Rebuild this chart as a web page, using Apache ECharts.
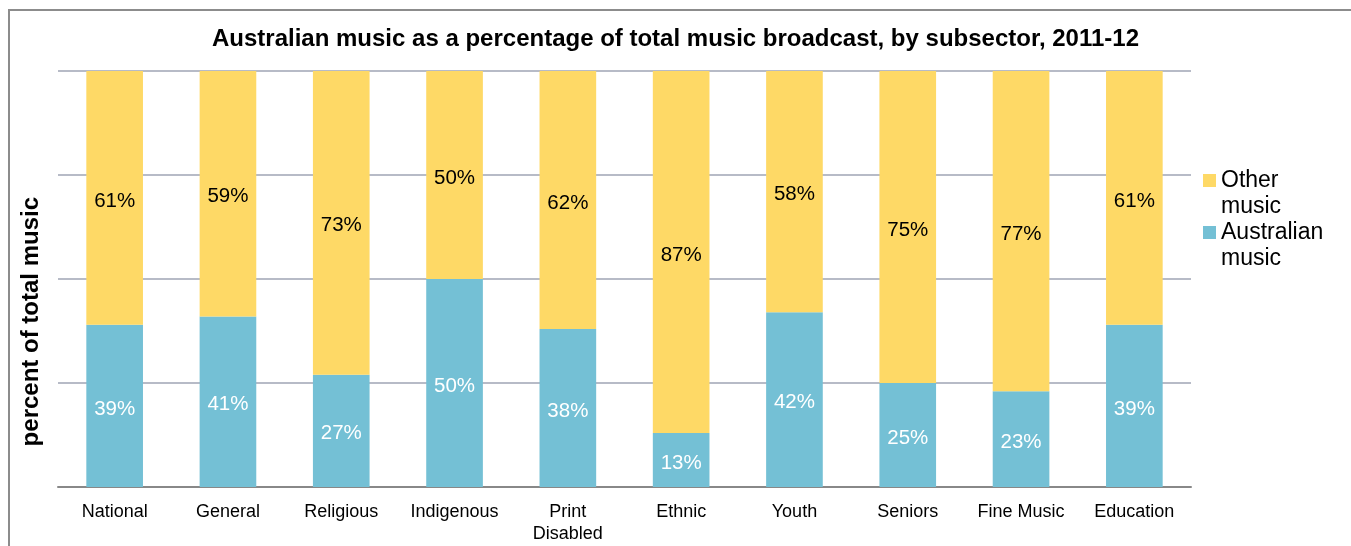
<!DOCTYPE html>
<html><head><meta charset="utf-8">
<script src="https://cdn.jsdelivr.net/npm/echarts@6/dist/echarts.min.js"></script>
<style>
html,body{margin:0;padding:0;background:#fff;}
#frame{position:absolute;left:8px;top:9px;width:1400px;height:600px;border-left:2px solid #8c8c8c;border-top:2px solid #8c8c8c;}
#c{position:absolute;left:0;top:0;width:1351px;height:546px;}
</style></head>
<body>
<div id="frame"></div>
<div id="c"></div>
<script>
const categories = ['National','General','Religious','Indigenous','Print\nDisabled','Ethnic','Youth','Seniors','Fine Music','Education'];
const australian = [39,41,27,50,38,13,42,25,23,39];
const other = [61,59,73,50,62,87,58,75,77,61];
const seriesNames = ['Australian\nmusic','Other\nmusic'];

const chart = echarts.init(document.getElementById('c'));
const font = 'Liberation Sans, Arial, sans-serif';
const legendIcon = 'path://M0,6L13,6L13,19L0,19Z M0,0L0.01,0L0.01,0.01Z M0,52L0.01,52L0.01,51.99Z';
chart.setOption({
  animation:false,
  textStyle:{fontFamily:font},
  title:{text:'Australian music as a percentage of total music broadcast, by subsector, 2011-12',
    left:'center', top:22, textStyle:{fontSize:24, fontWeight:'bold', color:'#000', fontFamily:font}},
  grid:{left:58, right:160, top:71, bottom:59},
  legend:{orient:'vertical', left:1198, top:163, itemWidth:13, itemHeight:52, itemGap:0,
    icon:legendIcon,
    data:[seriesNames[1], seriesNames[0]],
    textStyle:{fontSize:23, lineHeight:26, color:'#000', fontFamily:font}},
  xAxis:{type:'category', data:categories,
    axisLine:{lineStyle:{color:'#888', width:2}}, axisTick:{show:false},
    axisLabel:{interval:0, fontSize:18, color:'#000', margin:14, lineHeight:22, fontFamily:font}},
  yAxis:{type:'value', min:0, max:100, interval:25,
    axisLabel:{show:false}, axisLine:{show:false}, axisTick:{show:false},
    splitLine:{lineStyle:{color:'#b7bbc7', width:2}}},
  graphic:[{type:'text', left:19, top:197, rotation:Math.PI/2,
    style:{text:'percent of total music', fontSize:24, fontWeight:'bold', fill:'#000', fontFamily:font}}],
  series:[
    {name:seriesNames[0], type:'bar', stack:'a', data:australian, barWidth:'50%',
      itemStyle:{color:'#74c0d5'},
      label:{show:true, position:'inside', offset:[0,3], formatter:'{c}%', color:'#fff', fontSize:20.5, fontFamily:font}},
    {name:seriesNames[1], type:'bar', stack:'a', data:other, barWidth:'50%',
      itemStyle:{color:'#fed966'},
      label:{show:true, position:'inside', offset:[0,3], formatter:'{c}%', color:'#000', fontSize:20.5, fontFamily:font}}
  ]
});
</script>
</body></html>
